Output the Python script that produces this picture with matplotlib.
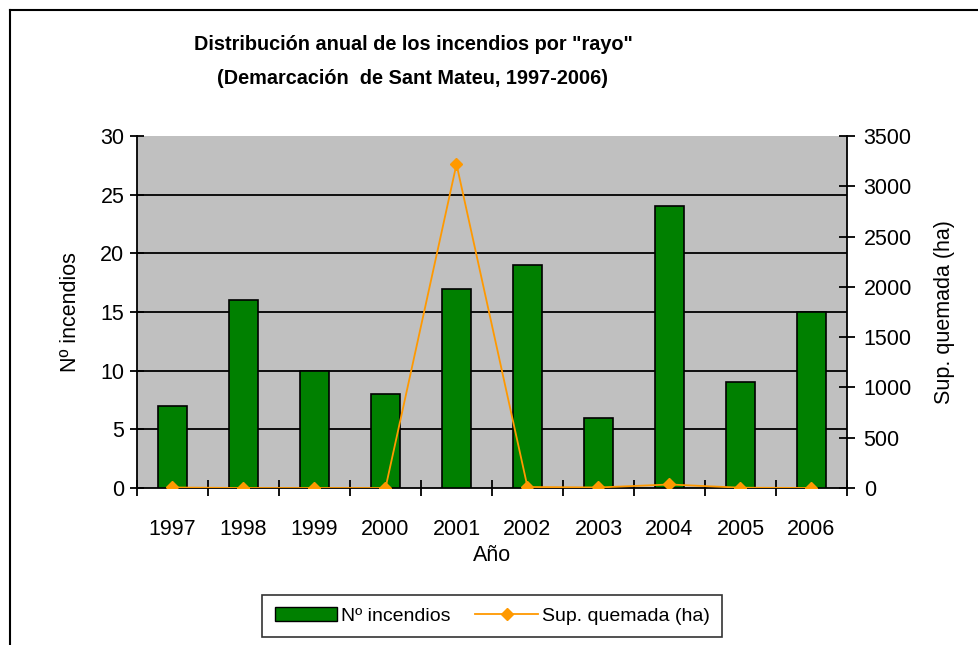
import matplotlib
matplotlib.use("Agg")
import matplotlib.pyplot as plt
from matplotlib.lines import Line2D
from matplotlib.patches import Patch
import numpy as np

plt.rcParams['font.family'] = ['Liberation Sans', 'DejaVu Sans']

# datos
anios = ["1997", "1998", "1999", "2000", "2001", "2002", "2003", "2004", "2005", "2006"]
n_incendios = [7, 16, 10, 8, 17, 19, 6, 24, 9, 15]
sup_quemada = [5, 0, 0, 0, 3220, 10, 5, 35, 3, 0]

verde = "#008000"
naranja = "#FF9900"
gris = "#C0C0C0"

fig = plt.figure(figsize=(9.79, 6.45), dpi=100)
ax = fig.add_axes([137 / 979, 1 - 488 / 645, 710 / 979, 352 / 645])
ax.set_facecolor(gris)

x = np.arange(len(anios))
ax.bar(x, n_incendios, width=0.41, color=verde, edgecolor="black", linewidth=1.2, zorder=3)
ax.set_xlim(-0.5, len(anios) - 0.5)
ax.set_ylim(0, 30)
ax.set_yticks(np.arange(0, 31, 5))
for v in range(5, 30, 5):
    ax.axhline(v, color="black", linewidth=1.3, zorder=1)

ax.set_xticks(x)
ax.set_xticklabels(anios)
ax.set_xticks(np.arange(-0.5, len(anios)), minor=True)
ax.tick_params(axis="x", which="major", length=0, labelsize=15.5, pad=22)
ax.tick_params(axis="x", which="minor", direction="inout", length=12, width=1.3)
ax.tick_params(axis="y", direction="inout", length=10, width=1.3, labelsize=15.5, pad=4)
for s in ["top", "right"]:
    ax.spines[s].set_visible(False)
for s in ["left", "bottom"]:
    ax.spines[s].set_linewidth(1.3)
ax.set_ylabel("Nº incendios", fontsize=15.5, labelpad=14)
ax.set_xlabel("Año", fontsize=15.5, labelpad=4)

ax2 = ax.twinx()
ax2.plot(x, sup_quemada, color=naranja, linewidth=1.3, marker="D", markersize=6.5,
         markeredgecolor=naranja, zorder=4)
ax2.set_ylim(0, 3500)
ax2.set_yticks(np.arange(0, 3501, 500))
ax2.tick_params(axis="y", direction="inout", length=12, width=1.3, labelsize=15.5, pad=6)
for s in ["top", "left", "bottom"]:
    ax2.spines[s].set_visible(False)
ax2.spines["right"].set_linewidth(1.3)
ax2.set_ylabel("Sup. quemada (ha)", fontsize=15.5, labelpad=16)

fig.text(413 / 979, 1 - 44 / 645, 'Distribución anual de los incendios por "rayo"',
         ha="center", va="center", fontsize=14.3, fontweight="bold")
fig.text(413 / 979, 1 - 78 / 645, '(Demarcación  de Sant Mateu, 1997-2006)',
         ha="center", va="center", fontsize=14.3, fontweight="bold")

handles = [Patch(facecolor=verde, edgecolor="black"),
           Line2D([0], [0], color=naranja, linewidth=1.3, marker="D", markersize=6)]
leg = fig.legend(handles, ["Nº incendios", "Sup. quemada (ha)"], loc="center",
                 bbox_to_anchor=(492 / 979, 1 - 616 / 645), ncol=2, fontsize=14,
                 frameon=True, fancybox=False, edgecolor="black", handlelength=3.2,
                 handletextpad=0.2, columnspacing=1.3, borderpad=0.65)
leg.get_frame().set_linewidth(1.2)

# borde del area del grafico
fig.add_artist(Line2D([10 / 979, 10 / 979], [0, 1 - 10 / 645], color="black", linewidth=1.5,
                      transform=fig.transFigure))
fig.add_artist(Line2D([10 / 979, 1], [1 - 10 / 645, 1 - 10 / 645], color="black", linewidth=1.5,
                      transform=fig.transFigure))

fig.savefig("out.png", dpi=100)
